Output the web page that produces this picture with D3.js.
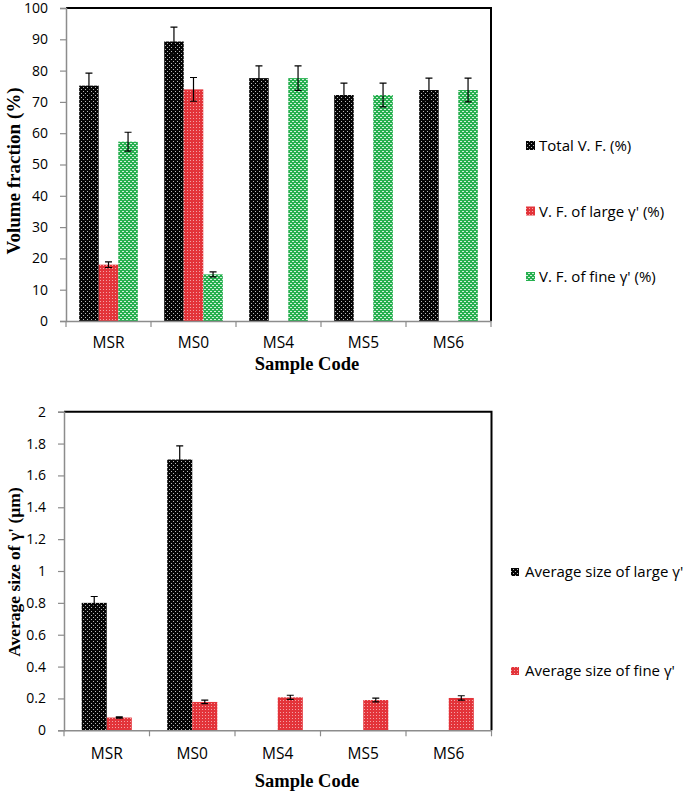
<!DOCTYPE html>
<html>
<head>
<meta charset="utf-8">
<script src="https://cdn.jsdelivr.net/npm/d3@7"></script>
<style>
  html, body { margin: 0; padding: 0; background: #fff; }
  svg { display: block; }
</style>
</head>
<body>
<svg id="chart" width="685" height="793"></svg>
<script>
// ---------- DATA ----------
const categories = ["MSR", "MS0", "MS4", "MS5", "MS6"];

// Top chart: volume fraction (%)
const topSeriesNames = ["Total V. F. (%)", "V. F. of large γ' (%)", "V. F. of fine γ' (%)"];
const totalVF      = [75.2, 89.3, 77.6, 72.2, 73.8];
const totalVFErr   = [4.0, 4.6, 3.9, 3.8, 3.8];
const largeVF      = [18.0, 74.0, null, null, null];
const largeVFErr   = [0.9, 3.8, null, null, null];
const fineVF       = [57.3, 14.9, 77.6, 72.2, 73.8];
const fineVFErr    = [3.0, 0.8, 3.9, 3.8, 3.8];
const topTicks     = [0, 10, 20, 30, 40, 50, 60, 70, 80, 90, 100];

// Bottom chart: average size of γ' (µm)
const bottomSeriesNames = ["Average size of large γ'", "Average size of fine γ'"];
const largeSize    = [0.80, 1.70, null, null, null];
const largeSizeErr = [0.04, 0.085, null, null, null];
const fineSize     = [0.08, 0.178, 0.207, 0.19, 0.203];
const fineSizeErr  = [0.004, 0.011, 0.013, 0.012, 0.014];
const bottomTicks  = [0, 0.2, 0.4, 0.6, 0.8, 1, 1.2, 1.4, 1.6, 1.8, 2];

// ---------- RENDER ----------
const svg = d3.select("#chart");
const defs = svg.append("defs");

function makePattern(id, w, h, bg, marks, markColor, markOpacity) {
  const p = defs.append("pattern").attr("id", id)
    .attr("patternUnits", "userSpaceOnUse").attr("width", w).attr("height", h);
  p.append("rect").attr("width", w).attr("height", h).attr("fill", bg);
  marks.forEach(m => p.append("rect").attr("x", m[0]).attr("y", m[1])
    .attr("width", m[2]).attr("height", m[3]).attr("fill", markColor).attr("opacity", markOpacity));
}
makePattern("patBlack", 4, 4, "#050505", [[1,1,1,1],[3,3,1,1]], "#d8d8d8", 0.85);
makePattern("patRed", 3, 3, "#e3343a", [[1,1,1,1]], "#ffffff", 0.55);
makePattern("patGreen", 4, 4, "#26b04f", [[0,1,2,1],[2,3,2,1]], "#ffffff", 0.8);

const axisColor = "#8c8c8c";
const tickFont = "Open Sans, sans-serif";
const titleFont = "Liberation Serif, Times New Roman, serif";

function drawChart(cfg) {
  const { left, right, top, bottom, ymax, ticks, series, barFrac, yTitle, yTitleCenter, xTitleY, xTitleX, catY, legend } = cfg;
  const g = svg.append("g");
  const x0 = d3.scaleBand().domain(categories).range([left, right]).padding(0);
  const y = d3.scaleLinear().domain([0, ymax]).range([bottom, top]);
  const bw = x0.bandwidth();
  const barW = bw * barFrac;
  const n = series.length;
  const x1 = d3.scaleBand().domain(d3.range(n))
    .range([(bw - n * barW) / 2, (bw + n * barW) / 2]).padding(0);

  // plot area border (top & right, black)
  g.append("path")
    .attr("d", `M${left},${top}H${right}V${bottom}`)
    .attr("fill", "none").attr("stroke", "#000").attr("stroke-width", 2);

  // bars
  series.forEach((s, si) => {
    const data = categories.map((c, i) => ({ c, v: s.values[i], e: s.err[i] })).filter(d => d.v != null);
    g.append("g").selectAll("rect").data(data).join("rect")
      .attr("x", d => x0(d.c) + x1(si))
      .attr("y", d => y(d.v))
      .attr("width", x1.bandwidth())
      .attr("height", d => y(0) - y(d.v))
      .attr("fill", `url(#${s.pattern})`);
    // error bars
    const eg = g.append("g").attr("stroke", "#000").attr("stroke-width", 1.2).attr("fill", "none");
    data.forEach(d => {
      const cx = x0(d.c) + x1(si) + x1.bandwidth() / 2;
      const y1 = y(d.v + d.e), y2 = y(d.v - d.e);
      eg.append("path").attr("d", `M${cx},${y1}V${y2}M${cx - 3.5},${y1}H${cx + 3.5}M${cx - 3.5},${y2}H${cx + 3.5}`);
    });
  });

  // y axis
  const ya = g.append("g").attr("transform", `translate(${left},0)`)
    .call(d3.axisLeft(y).tickValues(ticks).tickFormat(d3.format("~g")).tickSize(6).tickPadding(12));
  ya.select(".domain").attr("stroke", axisColor).attr("stroke-width", 1.5);
  ya.selectAll(".tick line").attr("stroke", axisColor).attr("stroke-width", 1.2);
  ya.selectAll(".tick text").attr("font-family", tickFont).attr("font-size", 14).attr("fill", "#000");

  // x axis
  const xa = g.append("g").attr("transform", `translate(0,${bottom})`)
    .call(d3.axisBottom(x0).tickSize(0).tickFormat(""));
  xa.select(".domain").attr("stroke", axisColor).attr("stroke-width", 1.5);
  xa.selectAll(".tick").remove();
  // category boundary ticks
  const bounds = categories.map(c => x0(c)).concat([right]);
  g.append("g").selectAll("line").data(bounds).join("line")
    .attr("x1", d => d).attr("x2", d => d).attr("y1", bottom).attr("y2", bottom + 6)
    .attr("stroke", axisColor).attr("stroke-width", 1.2);
  g.append("g").selectAll("text").data(categories).join("text")
    .attr("x", d => x0(d) + bw / 2).attr("y", catY)
    .attr("text-anchor", "middle").attr("font-family", tickFont).attr("font-size", 15.5)
    .text(d => d);

  // titles
  g.append("text").attr("transform", `translate(20,${yTitleCenter}) rotate(-90)`)
    .attr("text-anchor", "middle").attr("font-family", titleFont).attr("font-weight", "bold")
    .attr("font-size", cfg.yTitleSize).text(yTitle);
  g.append("text").attr("x", xTitleX).attr("y", xTitleY)
    .attr("text-anchor", "middle").attr("font-family", titleFont).attr("font-weight", "bold")
    .attr("font-size", 18.5).text("Sample Code");

  // legend
  series.forEach((s, si) => {
    const ly = legend.y0 + si * legend.dy;
    g.append("rect").attr("x", legend.sx).attr("y", ly - legend.ss - 1)
      .attr("width", legend.ss).attr("height", legend.ss).attr("fill", `url(#${s.pattern})`);
    g.append("text").attr("x", legend.tx).attr("y", ly)
      .attr("font-family", tickFont).attr("font-size", 15).text(s.name);
  });
}

drawChart({
  left: 66, right: 491, top: 8, bottom: 321, ymax: 100, ticks: topTicks,
  barFrac: 0.23,
  series: [
    { name: topSeriesNames[0], values: totalVF, err: totalVFErr, pattern: "patBlack" },
    { name: topSeriesNames[1], values: largeVF, err: largeVFErr, pattern: "patRed" },
    { name: topSeriesNames[2], values: fineVF, err: fineVFErr, pattern: "patGreen" }
  ],
  yTitle: "Volume fraction (%)", yTitleCenter: 171, yTitleSize: 19,
  xTitleX: 307, xTitleY: 370, catY: 348,
  legend: { sx: 526, tx: 539, ss: 9, y0: 151, dy: 65.5 }
});

drawChart({
  left: 64, right: 491.5, top: 411.7, bottom: 730.3, ymax: 2, ticks: bottomTicks,
  barFrac: 0.293,
  series: [
    { name: bottomSeriesNames[0], values: largeSize, err: largeSizeErr, pattern: "patBlack" },
    { name: bottomSeriesNames[1], values: fineSize, err: fineSizeErr, pattern: "patRed" }
  ],
  yTitle: "Average size of γ' (µm)", yTitleCenter: 572, yTitleSize: 17.5,
  xTitleX: 307, xTitleY: 787, catY: 759,
  legend: { sx: 511, tx: 525, ss: 8, y0: 577, dy: 99 }
});
</script>
</body>
</html>
